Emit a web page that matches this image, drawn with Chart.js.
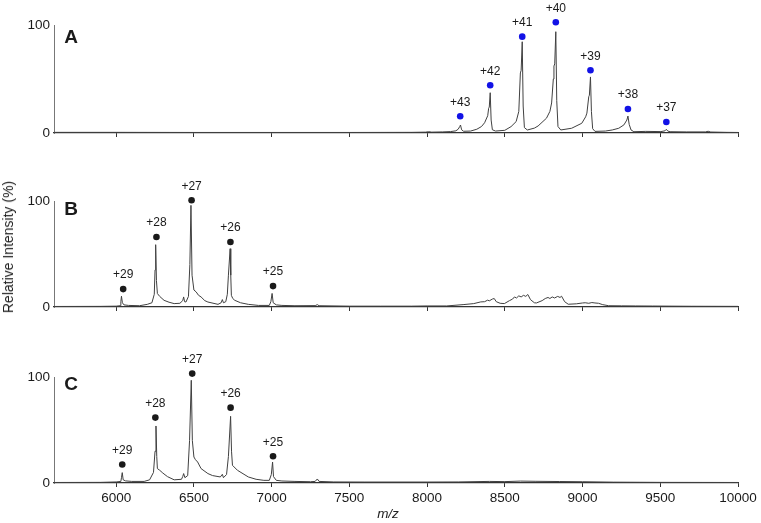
<!DOCTYPE html>
<html>
<head>
<meta charset="utf-8">
<script src="https://cdn.jsdelivr.net/npm/chart.js@4/dist/chart.umd.min.js"></script>
<style>
  html, body { margin:0; padding:0; background:#fff; }
  #wrap { position:relative; width:761px; height:523px; overflow:hidden; font-family:"Liberation Sans", Arial, sans-serif; }
  canvas { position:absolute; left:0; }
  #ytitle { position:absolute; left:7.5px; top:247px; transform:translate(-50%,-50%) rotate(-90deg); font-size:14px; color:#222; white-space:nowrap; }
  #xtitle { position:absolute; left:388px; top:506px; transform:translateX(-50%); font-size:13.5px; font-style:italic; color:#222; white-space:nowrap; }
</style>
</head>
<body>
<div id="wrap">
  <canvas id="cA" width="761" height="160" style="top:0px"></canvas>
  <canvas id="cB" width="761" height="180" style="top:160px"></canvas>
  <canvas id="cC" width="761" height="183" style="top:340px"></canvas>
  <div id="ytitle">Relative Intensity (%)</div>
  <div id="xtitle">m/z</div>
</div>
<script>
// ---- axis ticks ----
const xTicks = [6000, 6500, 7000, 7500, 8000, 8500, 9000, 9500, 10000];
const yTicks = [0, 100];

// ---- Panel A spectrum ----
const mzA  = [5600,6000,6500,7000,7500,7900,7990,8010,8030,8100,8150,8185,8200,8210,8215,8222,8235,8280,8320,8350,8370,8390,8396,8400,8406,8412,8420,8440,8500,8540,8573,8590,8600,8605,8612,8618,8626,8645,8690,8714,8768,8790,8801,8812,8816,8821,8828,8834,8842,8860,8930,8995,9020,9028,9040,9044,9051,9057,9065,9080,9147,9191,9233,9266,9285,9292,9300,9312,9330,9407,9504,9530,9539,9548,9563,9667,9790,9808,9825,9927,10000];
const intA = [0.6,0.6,0.5,0.5,0.5,0.6,0.8,1.2,0.8,1.0,1.3,2.0,3.5,6.0,7.4,3.0,1.6,1.8,3.5,6,9.5,16,22.9,24,37.3,12,3,1.8,2.5,5.9,10.6,20,55.6,58,84.5,25,5,2.8,4.5,6.5,13.7,20,27.8,50,62,64,93.8,30,6,2.8,4.4,9,15,18.4,33.6,35,51.9,20,4,1.5,1.8,2.8,4.4,7.5,12,15.7,8,2.8,1.2,1.5,1.3,2,3.4,1.8,1.2,1.0,1.0,1.6,0.9,0.6,0.5];
const chargeA = ["+43","+42","+41","+40","+39","+38","+37"];
const dotMzA  = [8213,8406,8612,8828,9051,9292,9539];
const dotIntA = [15.5,44.2,89.2,102.5,58.1,22.2,10.2];

// ---- Panel B spectrum ----
const mzB  = [5600,5900,6000,6025,6030,6034,6040,6050,6080,6150,6200,6230,6245,6250,6254,6259,6265,6280,6308,6340,6373,6410,6428,6434,6440,6449,6465,6474,6481,6488,6500,6514,6530,6546,6570,6590,6655,6675,6683,6690,6705,6715,6722,6733,6737,6741,6750,6763,6800,6850,6915,6985,6995,7003,7010,7030,7066,7150,7280,7294,7305,7500,7700,7900,8000,8126,8237,8300,8345,8370,8390,8400,8420,8432,8445,8470,8497,8530,8550,8562,8575,8590,8605,8620,8635,8648,8665,8690,8703,8740,8760,8778,8790,8805,8820,8840,8855,8865,8885,8908,8960,9000,9017,9040,9060,9080,9103,9130,9168,9250,9342,9450,9700,10000];
const intB = [0.5,0.6,0.8,1.2,5,10.2,4,2,1.5,1.2,2.5,4,12,35,58.8,25,12.7,10,6.3,4.5,3.2,3.5,6,9.5,5,4.7,10,40,95.9,30,16,14.3,11,9.5,6,4.7,2.5,4,7,4,5,12,30,55,30,11,8,6.3,4,2.5,1.5,1.5,5,12.8,4,2,1.5,1.2,1.3,2.2,1.2,0.8,0.8,0.8,1.0,1.0,2.3,3.2,4.8,5,6.5,5.8,7.5,8,5,3.5,3.2,6,7.5,9.5,8.5,10.5,9.5,11,10,11.8,7,4,3.8,6,8,9,8,9.5,8.5,10,9,10.2,5,2.6,3,3.8,4,3.5,4.2,3.8,3.5,2.2,1.2,1.1,1.0,0.9,0.7,0.6];
const chargeB = ["+29","+28","+27","+26","+25"];
const dotMzB  = [6045,6259,6485,6735,7009];
const dotIntB = [16.9,66.1,100.7,61.3,19.7];

// ---- Panel C spectrum ----
const mzC  = [5600,5900,6000,6030,6034,6039,6045,6060,6100,6180,6215,6240,6250,6256,6261,6265,6280,6300,6330,6373,6420,6428,6434,6442,6460,6472,6483,6490,6500,6510,6524,6546,6590,6620,6670,6683,6690,6710,6722,6736,6742,6748,6780,6850,6900,6950,6985,6998,7006,7012,7030,7066,7150,7250,7280,7294,7305,7400,7600,8000,8200,8400,8500,8600,8700,8850,9000,9200,9500,10000];
const intC = [0.5,0.6,1.0,1.5,5,9.8,3,2,1.5,1.5,3,10,30,53.8,25,13.6,12,9.4,6,3,3.5,6,8.9,5,7,40,96.9,40,24.5,22,19.8,13.6,8.9,7,5.7,8.2,5,8,25,62.9,30,16.7,12,5.7,3.5,2.5,2.5,8,19.8,6,2.5,1.9,1.5,1.2,1.5,3.8,1.5,1,0.9,0.9,1.0,1.5,1.3,1.8,1.6,1.4,1.2,0.8,0.6,0.5];
const chargeC = ["+29","+28","+27","+26","+25"];
const dotMzC  = [6039,6252,6489,6736,7009];
const dotIntC = [17.4,61.7,103.2,71.1,25.2];

const FONT = '"Liberation Sans", Arial, sans-serif';

const peakMarks = {
  id: 'peakMarks',
  afterDatasetsDraw(chart, args, opts) {
    const ctx = chart.ctx;
    const meta = chart.getDatasetMeta(1);
    ctx.save();
    ctx.fillStyle = '#1a1a1a';
    ctx.textAlign = 'center';
    ctx.textBaseline = 'middle';
    ctx.font = '12px ' + FONT;
    meta.data.forEach((pt, i) => {
      ctx.fillText(opts.labels[i], pt.x, pt.y - 14);
    });
    ctx.font = 'bold 19px ' + FONT;
    ctx.fillText(opts.letter, opts.letterX, opts.letterY);
    ctx.restore();
  }
};
Chart.register(peakMarks);

function toPts(xs, ys) { return xs.map((x, i) => ({x: x, y: ys[i]})); }

function makeChart(id, mz, inten, dMz, dInt, labels, dotColor, letter, letterY, showX, padTop, xHeight) {
  return new Chart(document.getElementById(id), {
    data: {
      datasets: [
        { type: 'line', data: toPts(mz, inten), borderColor: '#404040', borderWidth: 1, pointRadius: 0, tension: 0, fill: false },
        { type: 'scatter', data: toPts(dMz, dInt), pointRadius: 3.3, pointBackgroundColor: dotColor, pointBorderWidth: 0, showLine: false, clip: false }
      ]
    },
    options: {
      responsive: false,
      animation: false,
      events: [],
      layout: { padding: { top: padTop, right: 23, bottom: 0, left: 0 } },
      plugins: {
        legend: { display: false },
        tooltip: { enabled: false },
        peakMarks: { labels: labels, letter: letter, letterX: 71, letterY: letterY }
      },
      scales: {
        x: {
          type: 'linear', min: 5600, max: 10000,
          afterBuildTicks: s => { s.ticks = xTicks.map(v => ({value: v})); },
          afterFit: s => { s.height = xHeight; },
          grid: { display: true, drawOnChartArea: false, drawTicks: true, tickLength: 4, color: '#333', lineWidth: 1 },
          border: { display: true, color: '#333', width: 1.2 },
          ticks: { display: showX, padding: 3, color: '#1a1a1a', font: { family: FONT, size: 13.5 }, callback: v => String(v), maxRotation: 0, autoSkip: false }
        },
        y: {
          type: 'linear', min: 0, max: 100,
          afterBuildTicks: s => { s.ticks = yTicks.map(v => ({value: v})); },
          afterFit: s => { s.width = 54; },
          grid: { display: false, drawTicks: false },
          border: { display: true, color: '#777', width: 1 },
          ticks: { padding: 4, color: '#1a1a1a', font: { family: FONT, size: 13.5 } }
        }
      }
    }
  });
}

makeChart('cA', mzA, intA, dotMzA, dotIntA, chargeA, '#1212e6', 'A', 37.5, false, 25, 27);
makeChart('cB', mzB, intB, dotMzB, dotIntB, chargeB, '#1a1a1a', 'B', 50, false, 41, 33);
makeChart('cC', mzC, intC, dotMzC, dotIntC, chargeC, '#1a1a1a', 'C', 45, true, 37, 40);
</script>
</body>
</html>
